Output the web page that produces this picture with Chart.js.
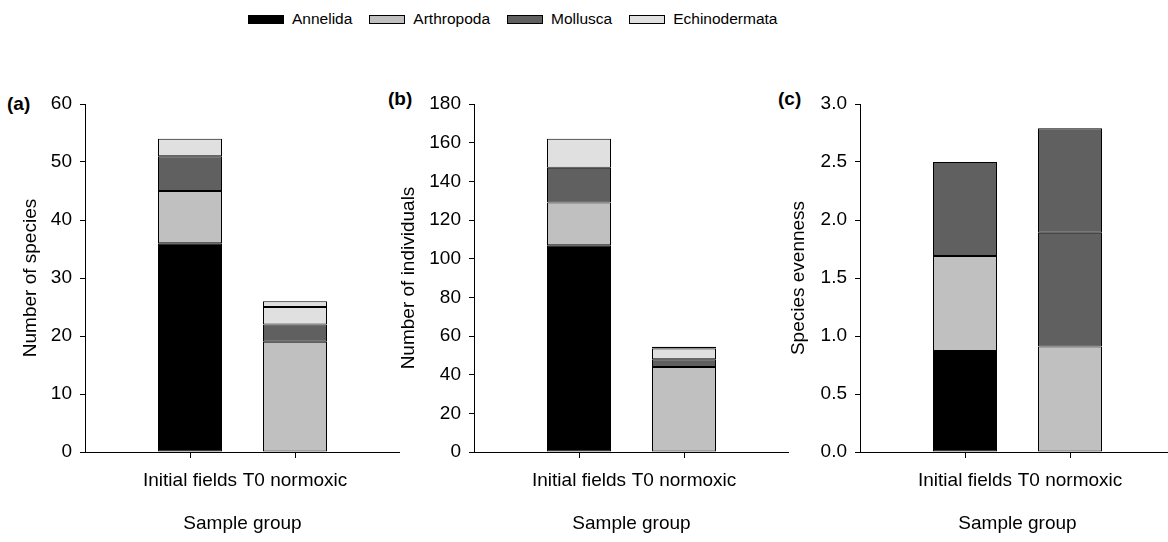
<!DOCTYPE html>
<html>
<head>
<meta charset="utf-8">
<script src="https://cdn.jsdelivr.net/npm/chart.js@4.4.1/dist/chart.umd.min.js"></script>
<style>
  html, body { margin: 0; padding: 0; background: #fff; }
  body { width: 1168px; height: 542px; position: relative; overflow: hidden;
         font-family: "Liberation Sans", Arial, sans-serif; color: #000; }
  .panel { position: absolute; top: 80px; }
  .tag { position: absolute; font-weight: bold; font-size: 19px; line-height: 20px; }
  #legend { position: absolute; top: 9px; left: 248px; display: flex; align-items: center;
            font-size: 15.5px; line-height: 20px; }
  .item { display: flex; align-items: center; margin-right: 17px; }
  .sw { width: 36px; height: 9px; border: 1px solid #000; box-sizing: border-box; margin-right: 8px; }
</style>
</head>
<body>
<div id="legend"></div>
<div class="tag" style="left:7px;top:94px">(a)</div>
<div class="tag" style="left:388px;top:89px">(b)</div>
<div class="tag" style="left:778px;top:89px">(c)</div>
<canvas id="chartA" class="panel"></canvas>
<canvas id="chartB" class="panel"></canvas>
<canvas id="chartC" class="panel"></canvas>
<script>
// Sample groups on the x axis
const groups = ['Initial fields', 'T0 normoxic'];

// Taxa shown in the legend and their fills
const taxa = ['Annelida', 'Arthropoda', 'Mollusca', 'Echinodermata'];
const taxonColors = ['#000000', '#c0c0c0', '#606060', '#e0e0e0'];

// (a) Number of species
const speciesAnnelida      = [36, 0];
const speciesArthropoda    = [9, 19];
const speciesMollusca      = [6, 3];
const speciesEchinodermata = [3, 3];
const speciesOther         = [0, 1];

// (b) Number of individuals
const individualsAnnelida      = [107, 0];
const individualsArthropoda    = [22, 44];
const individualsMollusca      = [18, 4];
const individualsEchinodermata = [15, 5.5];
const individualsOther         = [0, 1];

// (c) Species evenness
const evennessAnnelida      = [0.87, 0];
const evennessArthropoda    = [0.82, 0.91];
const evennessMollusca      = [0.81, 0.98];
const evennessEchinodermata = [0, 0];
const evennessOther         = [0, 0.90];

// Y axis tick values
const speciesTicks     = [0, 10, 20, 30, 40, 50, 60];
const individualsTicks = [0, 20, 40, 60, 80, 100, 120, 140, 160, 180];
const evennessTicks    = [0, 0.5, 1.0, 1.5, 2.0, 2.5, 3.0];

// Legend
const legendEl = document.getElementById('legend');
taxa.forEach((name, i) => {
  const item = document.createElement('div');
  item.className = 'item';
  const sw = document.createElement('span');
  sw.className = 'sw';
  sw.style.background = taxonColors[i];
  const tx = document.createElement('span');
  tx.textContent = name;
  item.appendChild(sw);
  item.appendChild(tx);
  legendEl.appendChild(item);
});

const FONT = '"Liberation Sans", Arial, sans-serif';
const PLOT_W = 315, PLOT_H = 348, Y_W = 90, CANVAS_H = 462, PAD_TOP = 24;
const SLOT = PLOT_W / 3;

// Empty slots either side place the two bars at 1/3 and 2/3 of the axis
const slotLabels = ['', ...groups, ''];
const pad = arr => [null, ...arr, null];
const tickColors = ['rgba(0,0,0,0)', '#000', '#000', 'rgba(0,0,0,0)'];

function makeDatasets(series, otherColor) {
  const ds = series.slice(0, 4).map((vals, i) => ({
    label: taxa[i],
    data: pad(vals),
    backgroundColor: taxonColors[i]
  }));
  ds.push({ label: 'Other taxa', data: pad(series[4]), backgroundColor: otherColor });
  return ds.map(d => Object.assign(d, {
    borderColor: '#000', borderWidth: 1, borderSkipped: false,
    categoryPercentage: 1.0, barPercentage: 64 / SLOT
  }));
}

function buildPanel(id, axisX, yTitle, yTitleCenter, ticks, max, decimals, series, otherColor) {
  const canvas = document.getElementById(id);
  const left = axisX - Y_W;
  canvas.style.left = left + 'px';
  canvas.width = Y_W + PLOT_W;
  canvas.height = CANVAS_H;
  canvas.style.width = (Y_W + PLOT_W) + 'px';
  canvas.style.height = CANVAS_H + 'px';

  new Chart(canvas, {
    type: 'bar',
    data: { labels: slotLabels, datasets: makeDatasets(series, otherColor) },
    options: {
      responsive: false,
      animation: false,
      events: [],
      layout: { padding: { top: PAD_TOP, left: 0, right: 0, bottom: 0 } },
      plugins: { legend: { display: false }, tooltip: { enabled: false } },
      scales: {
        x: {
          stacked: true,
          offset: false,
          afterFit: s => {
            s.height = CANVAS_H - PAD_TOP - PLOT_H;
            s.paddingLeft = 0;
            s.paddingRight = 0;
          },
          border: { display: true, color: '#000', width: 1 },
          grid: {
            display: true, offset: false, drawOnChartArea: false, drawTicks: true,
            tickLength: 6, lineWidth: 1, color: tickColors
          },
          ticks: { autoSkip: false, maxRotation: 0, padding: 11, color: '#000',
                   font: { family: FONT, size: 19 } },
          title: { display: true, text: 'Sample group', color: '#000',
                   font: { family: FONT, size: 19 }, padding: { top: 0, bottom: 6.6 } }
        },
        y: {
          stacked: true,
          min: 0, max: max,
          afterFit: s => { s.width = Y_W; },
          afterBuildTicks: s => { s.ticks = ticks.map(v => ({ value: v })); },
          border: { display: true, color: '#000', width: 1 },
          grid: { display: true, drawOnChartArea: false, drawTicks: true, tickLength: 5, color: '#000' },
          ticks: { padding: 8, color: '#000', font: { family: FONT, size: 19 },
                   callback: v => Number(v).toFixed(decimals) },
          title: { display: true, text: yTitle, color: '#000',
                   font: { family: FONT, size: 19 },
                   padding: { top: (yTitleCenter - left) - 11.4, bottom: 0 } }
        }
      }
    }
  });
}

buildPanel('chartA', 85, 'Number of species', 30.8, speciesTicks, 60, 0,
  [speciesAnnelida, speciesArthropoda, speciesMollusca, speciesEchinodermata, speciesOther], '#e0e0e0');
buildPanel('chartB', 474, 'Number of individuals', 408.3, individualsTicks, 180, 0,
  [individualsAnnelida, individualsArthropoda, individualsMollusca, individualsEchinodermata, individualsOther], '#606060');
buildPanel('chartC', 860, 'Species evenness', 798.3, evennessTicks, 3, 1,
  [evennessAnnelida, evennessArthropoda, evennessMollusca, evennessEchinodermata, evennessOther], '#606060');
</script>
</body>
</html>
